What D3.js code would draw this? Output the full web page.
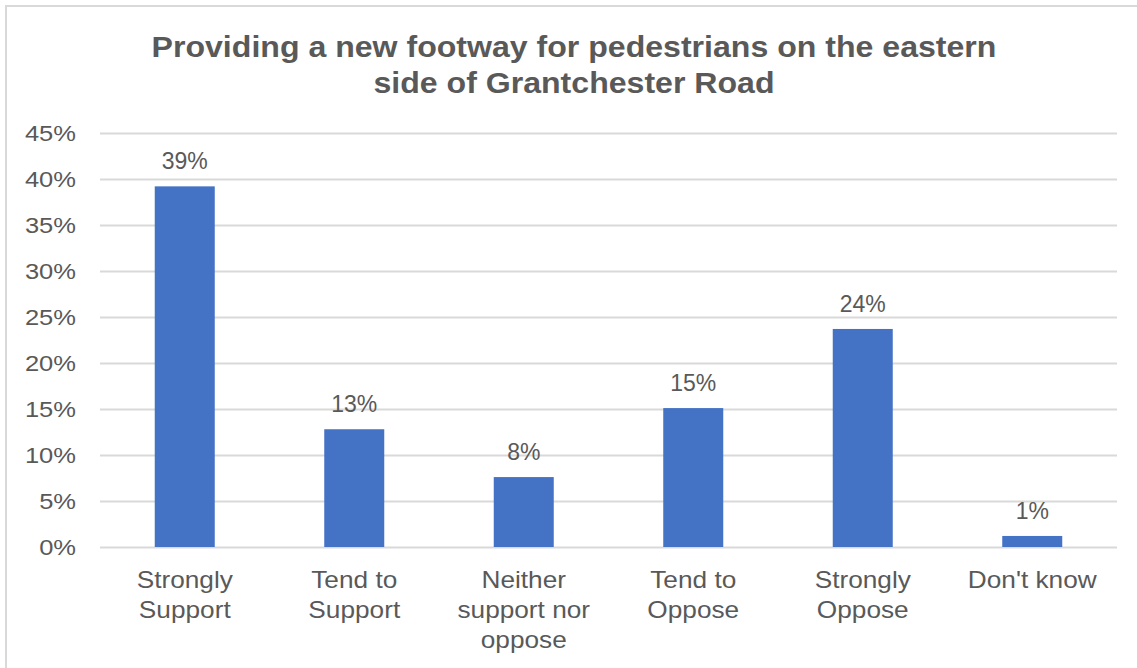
<!DOCTYPE html>
<html>
<head>
<meta charset="utf-8">
<script src="https://cdn.jsdelivr.net/npm/d3@7"></script>
<style>
  html, body { margin: 0; padding: 0; background: #ffffff; }
  svg { display: block; font-family: "Liberation Sans", Arial, sans-serif; }
</style>
</head>
<body>
<svg id="chart" width="1137" height="668"></svg>
<script>
// Survey responses
const categories = [
  ["Strongly", "Support"],
  ["Tend to", "Support"],
  ["Neither", "support nor", "oppose"],
  ["Tend to", "Oppose"],
  ["Strongly", "Oppose"],
  ["Don't know"]
];
const shares = [0.392, 0.128, 0.076, 0.151, 0.237, 0.012];
const yTicks = [0, 0.05, 0.10, 0.15, 0.20, 0.25, 0.30, 0.35, 0.40, 0.45];
const titleLines = [
  "Providing a new footway for pedestrians on the eastern",
  "side of Grantchester Road"
];

const svg = d3.select("#chart");
const W = 1137, H = 668;
const margin = { left: 100, right: 20, top: 133, bottom: 121 };
const textColor = "#595959";
const gridColor = "#d9d9d9";
const barColor = "#4472c4";

// Chart frame
svg.append("rect")
  .attr("x", 6).attr("y", 6)
  .attr("width", W + 20).attr("height", H + 20)
  .attr("fill", "#fff")
  .attr("stroke", gridColor)
  .attr("stroke-width", 2);

// Title (slightly widened lettering)
svg.append("text")
  .attr("transform", "translate(574,57) scale(1.07,1)")
  .attr("text-anchor", "middle")
  .attr("fill", textColor)
  .attr("font-size", 30)
  .attr("font-weight", "bold")
  .selectAll("tspan")
  .data(titleLines)
  .join("tspan")
  .attr("x", 0)
  .attr("y", (d, i) => i * 36)
  .text(d => d);

const x = d3.scaleBand()
  .domain(d3.range(categories.length))
  .range([margin.left, W - margin.right])
  .paddingInner(0.646)
  .paddingOuter(0.323);

const y = d3.scaleLinear()
  .domain([0, 0.45])
  .range([H - margin.bottom, margin.top]);

// Gridlines and y axis labels
const yAxis = d3.axisLeft(y)
  .tickValues(yTicks)
  .tickFormat(d3.format(".0%"))
  .tickSize(-(W - margin.right - margin.left))
  .tickPadding(24);

const gy = svg.append("g")
  .attr("transform", `translate(${margin.left},0)`)
  .call(yAxis);
gy.select(".domain").remove();
gy.selectAll(".tick line").attr("stroke", gridColor).attr("stroke-width", 2);
gy.selectAll(".tick text")
  .attr("x", 0)
  .attr("transform", "translate(-24,0) scale(1.16,1)")
  .attr("fill", textColor)
  .attr("font-size", 22)
  .attr("font-family", "Liberation Sans, Arial, sans-serif");

// Bars
svg.append("g")
  .selectAll("rect")
  .data(shares)
  .join("rect")
  .attr("x", (d, i) => x(i))
  .attr("y", d => y(d))
  .attr("width", x.bandwidth())
  .attr("height", d => y(0) - y(d))
  .attr("fill", barColor);

// Value labels
svg.append("g")
  .selectAll("text")
  .data(shares)
  .join("text")
  .attr("x", (d, i) => x(i) + x.bandwidth() / 2)
  .attr("y", d => y(d) - 17)
  .attr("text-anchor", "middle")
  .attr("fill", textColor)
  .attr("font-size", 23)
  .text(d => d3.format(".0%")(d));

// Category labels
const gx = svg.append("g")
  .selectAll("text")
  .data(categories)
  .join("text")
  .attr("text-anchor", "middle")
  .attr("fill", textColor)
  .attr("font-size", 23)
  .attr("transform", (d, i) => `translate(${x(i) + x.bandwidth() / 2},588) scale(1.14,1)`);
gx.selectAll("tspan")
  .data(d => d)
  .join("tspan")
  .attr("x", 0)
  .attr("y", (d, i) => i * 30)
  .text(d => d);
</script>
</body>
</html>
